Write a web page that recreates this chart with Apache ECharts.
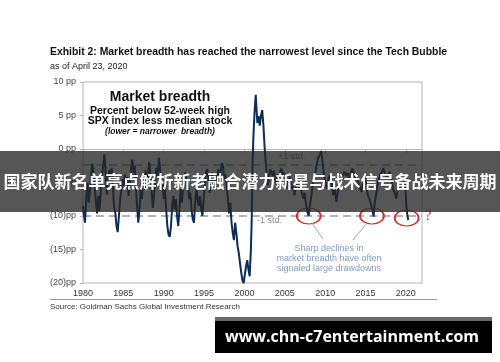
<!DOCTYPE html>
<html><head><meta charset="utf-8">
<script src="https://cdn.jsdelivr.net/npm/echarts@6/dist/echarts.min.js"></script>
<style>html,body{margin:0;padding:0;background:#fff}#c{width:500px;height:362px}</style>
</head><body><div id="c"></div><script>
// ---- data ----
const years = [
1980.0,1980.1,1980.25,1980.4,1980.55,1980.7,1980.85,1981.0,1981.15,1981.3,1981.45,1981.6,1981.75,1981.9,
1982.05,1982.2,1982.35,1982.5,1982.65,1982.8,1982.95,1983.1,1983.25,1983.4,1983.55,1983.7,1983.85,
1984.0,1984.15,1984.3,1984.45,1984.6,1984.75,1984.9,1985.05,1985.2,1985.35,1985.5,1985.65,1985.8,1985.95,
1986.1,1986.25,1986.4,1986.55,1986.7,1986.85,1987.0,1987.15,1987.3,1987.45,1987.6,1987.75,1987.9,
1988.05,1988.2,1988.35,1988.5,1988.65,1988.8,1988.95,1989.1,1989.25,1989.4,1989.55,1989.7,1989.85,
1990.0,1990.15,1990.3,1990.45,1990.6,1990.75,1990.9,1991.05,1991.2,1991.35,1991.5,1991.65,1991.8,1991.95,
1992.1,1992.25,1992.4,1992.55,1992.7,1992.85,1993.0,1993.15,1993.3,1993.45,1993.6,1993.75,1993.9,
1994.05,1994.2,1994.35,1994.5,1994.65,1994.8,1994.95,1995.1,1995.25,1995.4,1995.55,1995.7,1995.85,
1996.0,1996.15,1996.3,1996.45,1996.6,1996.75,1996.9,1997.05,1997.2,1997.35,1997.5,1997.65,1997.8,1997.95,
1998.1,1998.25,1998.4,1998.55,1998.7,1998.85,1999.0,1999.15,1999.3,1999.45,1999.6,1999.75,1999.9,
2000.05,2000.2,2000.35,2000.5,2000.65,2000.8,2000.9,2001.0,2001.1,2001.25,2001.4,2001.5,2001.6,2001.75,2001.9,
2002.05,2002.2,2002.35,2002.5,2002.6,2002.75,2002.9,2003.05,2003.2,2003.35,2003.5,2003.65,2003.8,
2004.0,2004.15,2004.3,2004.45,2004.6,2004.75,2004.9,2005.05,2005.2,2005.35,2005.5,2005.6,2005.75,2005.9,
2006.05,2006.2,2006.35,2006.5,2006.65,2006.8,2006.95,2007.1,2007.3,2007.45,2007.6,2007.8,2007.95,
2008.1,2008.3,2008.5,2008.7,2008.9,2009.1,2009.3,2009.5,2009.65,2009.8,2009.95,
2010.1,2010.2,2010.4,2010.6,2010.8,2011.0,2011.2,2011.4,2011.6,2011.8,
2012.0,2012.2,2012.4,2012.6,2012.8,2013.0,2013.2,2013.35,2013.5,2013.7,2013.9,
2014.1,2014.3,2014.5,2014.7,2014.9,2015.1,2015.3,2015.5,2015.7,2015.85,
2016.0,2016.15,2016.35,2016.55,2016.8,2017.0,2017.2,2017.4,2017.6,2017.8,
2018.0,2018.2,2018.4,2018.6,2018.8,2019.0,2019.2,2019.4,2019.6,2019.75,2019.9,
2020.05,2020.2,2020.3];
const breadth = [
-8.5,-9.8,-11.0,-7.5,-5.0,-8.0,-6.5,-4.0,-2.2,-3.5,-5.5,-8.0,-9.6,-7.0,
-9.2,-6.5,-4.0,-2.5,-0.8,-3.5,-6.8,-5.0,-3.2,-4.8,-2.8,-5.5,-8.7,
-9.5,-11.5,-12.4,-10.0,-7.5,-6.0,-4.5,-5.5,-3.8,-5.8,-4.2,-7.0,-5.0,-3.0,
-1.6,-3.5,-2.5,-5.5,-8.5,-11.0,-9.0,-6.0,-7.5,-4.5,-6.0,-3.2,-5.8,
-4.0,-2.0,-3.5,-6.0,-8.8,-7.0,-4.5,-2.8,-4.0,-1.3,-3.0,-5.0,-4.5,
-7.5,-6.0,-9.0,-11.5,-12.8,-13.1,-11.5,-8.5,-7.0,-9.0,-7.5,-10.0,-11.5,-9.0,
-6.0,-8.0,-5.5,-4.0,-3.5,-6.0,-5.0,-7.5,-6.5,-9.0,-10.5,-11.0,-8.0,
-6.0,-7.5,-8.5,-7.0,-9.0,-10.0,-7.5,-5.0,-3.5,-3.0,-4.5,-6.5,-5.0,
-3.5,-5.5,-4.0,-6.0,-4.5,-3.0,-5.0,-3.5,-2.1,-2.5,-4.5,-3.8,-5.5,-7.5,
-9.6,-8.0,-11.0,-12.5,-13.6,-11.0,-12.5,-14.5,-15.5,-17.0,-18.4,-19.6,-20.0,
-19.8,-17.5,-16.6,-18.0,-19.0,-15.0,-10.6,-3.0,1.5,5.4,8.1,6.0,3.9,4.9,3.5,
5.0,5.8,3.6,0.3,-1.4,-3.5,-5.4,-4.0,-3.0,-2.9,-4.0,-3.2,-4.5,
-4.9,-3.8,-4.5,-3.2,-2.9,-4.0,-3.5,-5.0,-5.9,-4.5,-5.0,-4.1,-5.0,-6.0,
-5.5,-6.9,-5.8,-5.0,-4.9,-6.0,-5.5,-6.5,-7.4,-6.5,-8.0,-9.4,-10.0,
-8.5,-6.9,-5.0,-3.9,-2.8,-1.4,-1.0,-0.3,-1.5,-3.4,-4.5,
-5.5,-5.9,-4.5,-3.9,-5.0,-6.9,-6.0,-7.9,-6.0,-4.4,
-5.0,-3.8,-3.4,-4.0,-3.6,-4.4,-3.6,-2.9,-3.4,-4.5,-4.0,
-5.0,-5.6,-6.4,-5.0,-4.0,-5.5,-6.9,-7.5,-8.4,-9.0,
-10.1,-8.0,-6.5,-5.0,-3.9,-3.5,-2.9,-3.6,-4.2,-3.8,
-3.4,-4.5,-5.9,-6.5,-7.4,-6.0,-5.4,-6.0,-5.8,-5.0,-4.4,
-8.4,-10.0,-10.6];
const xTickYears = [1980,1985,1990,1995,2000,2005,2010,2015,2020];
const yTickValues = [-20,-15,-10,-5,0,5,10];
const yTickLabels = ['(20)pp','(15)pp','(10)pp','(5)pp','0 pp','5 pp','10 pp'];
const stdLevels = [-2.4, -10];
const stdLabels = ['+1 std.', '-1 std.'];
const ellipseYears = [2007.97, 2015.8, 2020.1];
const ellipseValues = [-10, -10, -10.3];

// ---- chart ----
const FONT = 'Liberation Sans, Arial, sans-serif';
const chart = echarts.init(document.getElementById('c'), null, {renderer: 'canvas'});
const lineData = years.map((y, i) => [y, breadth[i]]);
const ellipsePath = 'path://M0,8 A12,8 0 1,0 24,8 A12,8 0 1,0 0,8 Z';

chart.setOption({
  animation: false,
  backgroundColor: '#fff',
  grid: {left: 83, right: 78, top: 82, height: 201, show: true, borderColor: '#b5b5b5', borderWidth: 1, backgroundColor: 'transparent'},
  xAxis: [{
    type: 'value', min: 1980, max: 2022, interval: 5, position: 'bottom',
    axisLine: {show: false, onZero: false},
    axisTick: {show: false},
    splitLine: {show: false},
    axisLabel: {customValues: xTickYears, formatter: v => String(v), color: '#333', fontSize: 9, fontFamily: FONT, margin: 6}
  }, {
    type: 'value', min: 1980, max: 2022, interval: 5, position: 'top',
    axisLine: {show: true, onZero: true, lineStyle: {color: '#b5b5b5', width: 1}},
    axisTick: {show: true, inside: true, length: 4, customValues: xTickYears, lineStyle: {color: '#b5b5b5'}},
    axisLabel: {show: false},
    splitLine: {show: false}
  }],
  yAxis: {
    type: 'value', min: -20, max: 10, interval: 5,
    axisLine: {show: false},
    axisTick: {show: true, length: 3, lineStyle: {color: '#b5b5b5'}},
    splitLine: {show: false},
    axisLabel: {color: '#444', fontSize: 9, fontFamily: FONT, margin: 7,
      formatter: v => yTickLabels[yTickValues.indexOf(v)] || ''}
  },
  series: [{
    type: 'line', xAxisIndex: 0, data: lineData, showSymbol: false, symbol: 'none',
    lineStyle: {color: '#0c2c58', width: 2}, z: 3,
    markLine: {
      silent: true, symbol: ['none', 'none'], z: 2,
      lineStyle: {color: '#9a9a9a', width: 1.5, type: [8, 5]},
      label: {show: false},
      data: stdLevels.map(v => ({yAxis: v}))
    },
    markPoint: {
      silent: true, z: 5,
      data: ellipseYears.map((y, i) => ({
        coord: [y, ellipseValues[i]], symbol: ellipsePath, symbolSize: [24, 16],
        itemStyle: {color: 'rgba(0,0,0,0)', borderColor: '#d42a2a', borderWidth: 1.5},
        label: {show: false}
      }))
    }
  }],
  graphic: [
    {type: 'text', left: 50, top: 47, z: 50, style: {text: 'Exhibit 2: Market breadth has reached the narrowest level since the Tech Bubble', font: 'bold 10.4px ' + FONT, fill: '#111'}},
    {type: 'text', left: 50, top: 62, z: 50, style: {text: 'as of April 23, 2020', font: '9px ' + FONT, fill: '#222'}},
    {type: 'text', x: 160, y: 97, z: 50, style: {text: 'Market breadth', font: 'bold 14px ' + FONT, fill: '#111', align: 'center', verticalAlign: 'middle'}},
    {type: 'text', x: 160, y: 111, z: 50, style: {text: 'Percent below 52-week high', font: 'bold 10.5px ' + FONT, fill: '#111', align: 'center', verticalAlign: 'middle'}},
    {type: 'text', x: 160, y: 121.5, z: 50, style: {text: 'SPX index less median stock', font: 'bold 10.5px ' + FONT, fill: '#111', align: 'center', verticalAlign: 'middle'}},
    {type: 'text', x: 160, y: 132, z: 50, style: {text: '(lower = narrower  breadth)', font: 'italic bold 8.5px ' + FONT, fill: '#111', align: 'center', verticalAlign: 'middle'}},
    {type: 'text', x: 278, y: 157, z: 50, style: {text: stdLabels[0], font: '9px ' + FONT, fill: '#888', verticalAlign: 'middle'}},
    {type: 'text', x: 257, y: 221, z: 50, style: {text: stdLabels[1], font: '9px ' + FONT, fill: '#888', verticalAlign: 'middle'}},
    {type: 'text', x: 329, y: 249, z: 50, style: {text: 'Sharp declines in', font: '9px ' + FONT, fill: '#7d9bc8', align: 'center', verticalAlign: 'middle'}},
    {type: 'text', x: 329, y: 259, z: 50, style: {text: 'market breadth have often', font: '9px ' + FONT, fill: '#7d9bc8', align: 'center', verticalAlign: 'middle'}},
    {type: 'text', x: 329, y: 269, z: 50, style: {text: 'signaled large drawdowns', font: '9px ' + FONT, fill: '#7d9bc8', align: 'center', verticalAlign: 'middle'}},
    {type: 'line', z: 50, shape: {x1: 323, y1: 239, x2: 312, y2: 223}, style: {stroke: '#8eaad2', lineWidth: 1}},
    {type: 'line', z: 50, shape: {x1: 353, y1: 240, x2: 367, y2: 223}, style: {stroke: '#8eaad2', lineWidth: 1}},
    {type: 'text', x: 428, y: 216, z: 50, style: {text: '?', font: '15px Liberation Serif, serif', fill: '#d42a2a', align: 'center', verticalAlign: 'middle'}},
    {type: 'line', z: 50, shape: {x1: 50, y1: 299.5, x2: 437, y2: 299.5}, style: {stroke: '#999', lineWidth: 1}},
    {type: 'text', left: 50, top: 303, z: 50, style: {text: 'Source: Goldman Sachs Global Investment Research', font: '8px ' + FONT, fill: '#333'}},
    {type: 'rect', z: 100, shape: {x: 0, y: 151, width: 500, height: 61}, style: {fill: 'rgba(38,38,38,0.78)'}},
    {type: 'text', x: 250, y: 182, z: 101, style: {text: '国家队新名单亮点解析新老融合潜力新星与战术信号备战未来周期', font: 'bold 17px "Noto Sans CJK SC", sans-serif', fill: '#fff', align: 'center', verticalAlign: 'middle'}},
    {type: 'rect', z: 100, shape: {x: 215, y: 317, width: 277, height: 4}, style: {fill: '#6a6a6a'}},
    {type: 'rect', z: 100, shape: {x: 215, y: 321, width: 277, height: 32}, style: {fill: '#000'}},
    {type: 'text', x: 352, y: 337, z: 101, style: {text: 'www.chn-c7entertainment.com', font: 'bold 16px "Open Sans", sans-serif', fill: '#fff', align: 'center', verticalAlign: 'middle'}}
  ]
});
</script></body></html>
